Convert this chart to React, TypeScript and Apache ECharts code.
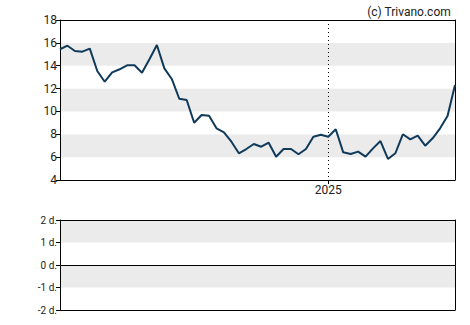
import React, { useEffect, useRef } from "react";
import * as echarts from "echarts";

// weekly closing prices
const prices: number[] = [
  15.44, 15.75, 15.29, 15.23, 15.49, 13.54, 12.6, 13.42, 13.69, 14.04,
  14.04, 13.39, 14.56, 15.81, 13.77, 12.84, 11.11, 11.0, 9.01, 9.69,
  9.63, 8.52, 8.17, 7.35, 6.34, 6.71, 7.15, 6.91, 7.26, 6.04,
  6.71, 6.71, 6.25, 6.71, 7.79, 7.96, 7.79, 8.44, 6.42, 6.27,
  6.48, 6.04, 6.77, 7.41, 5.84, 6.34, 8.0, 7.56, 7.88, 7.0,
  7.65, 8.52, 9.6, 12.31,
];

const startDate = new Date(Date.UTC(2024, 3, 26));
const dates: string[] = prices.map((_, i) => {
  const d = new Date(startDate.getTime() + i * 7 * 86400000);
  return d.toISOString().slice(0, 10);
});
const yearMarkIndex = dates.findIndex((d) => d.startsWith("2025"));
const yearLabel = "2025";

const priceTicks = [4, 6, 8, 10, 12, 14, 16, 18];
const lowerTicks = [-2, -1, 0, 1, 2];
const lowerTickLabels = ["-2 d.", "-1 d.", "0 d.", "1 d.", "2 d."];

export default function App() {
  const ref = useRef<HTMLDivElement>(null);
  useEffect(() => {
    if (!ref.current) return;
    const chart = echarts.init(ref.current, null, { renderer: "svg" });
    const font = "Roboto";
    const only = (idx: number) => (i: number) => i === idx;
    chart.setOption({
      animation: false,
      backgroundColor: "#fff",
      textStyle: { fontFamily: font },
      title: {
        text: "(c) Trivano.com",
        right: 14,
        top: 1,
        textStyle: { fontSize: 12, fontWeight: "normal", color: "#222", fontFamily: font },
      },
      grid: [
        { left: 60, top: 20, width: 395, height: 160 },
        { left: 60, top: 220, width: 395, height: 90 },
      ],
      xAxis: [
        {
          type: "category",
          gridIndex: 0,
          data: dates,
          boundaryGap: false,
          axisLine: { show: true, lineStyle: { color: "#000", width: 1 } },
          axisTick: { show: true, interval: only(yearMarkIndex), length: 4, lineStyle: { color: "#000" } },
          axisLabel: {
            show: true,
            interval: only(yearMarkIndex),
            formatter: () => yearLabel,
            fontSize: 12,
            color: "#222",
            margin: 4,
            fontFamily: font,
          },
          splitLine: {
            show: true,
            interval: only(yearMarkIndex),
            lineStyle: { color: "#000", type: [1, 3], width: 1 },
          },
        },
        {
          type: "category",
          gridIndex: 0,
          position: "top",
          data: dates,
          boundaryGap: false,
          axisLine: { show: true, lineStyle: { color: "#000", width: 1 } },
          axisTick: { show: false },
          axisLabel: { show: false },
        },
        {
          type: "category",
          gridIndex: 1,
          data: dates,
          boundaryGap: false,
          axisLine: { show: true, onZero: false, lineStyle: { color: "#000", width: 1 } },
          axisTick: { show: false },
          axisLabel: { show: false },
        },
        {
          type: "category",
          gridIndex: 1,
          position: "top",
          data: dates,
          boundaryGap: false,
          axisLine: { show: true, onZero: false, lineStyle: { color: "#000", width: 1 } },
          axisTick: { show: false },
          axisLabel: { show: false },
        },
      ],
      yAxis: [
        {
          type: "value",
          gridIndex: 0,
          min: priceTicks[0],
          max: priceTicks[priceTicks.length - 1],
          interval: 2,
          axisLine: { show: true, lineStyle: { color: "#000", width: 1 } },
          axisTick: { show: true, length: 4, lineStyle: { color: "#000" } },
          axisLabel: { fontSize: 12, color: "#222", margin: 3, fontFamily: font },
          splitLine: { show: false },
          splitArea: { show: true, areaStyle: { color: ["#ffffff", "#ebebeb"] } },
        },
        {
          type: "value",
          gridIndex: 0,
          position: "right",
          min: priceTicks[0],
          max: priceTicks[priceTicks.length - 1],
          interval: 2,
          axisLine: { show: true, lineStyle: { color: "#000", width: 1 } },
          axisTick: { show: false },
          axisLabel: { show: false },
          splitLine: { show: false },
        },
        {
          type: "value",
          gridIndex: 1,
          min: lowerTicks[0],
          max: lowerTicks[lowerTicks.length - 1],
          interval: 1,
          axisLine: { show: true, lineStyle: { color: "#000", width: 1 } },
          axisTick: { show: true, length: 4, lineStyle: { color: "#000" } },
          axisLabel: {
            fontSize: 10,
            color: "#222",
            margin: 3,
            fontFamily: font,
            formatter: (v: number) => lowerTickLabels[lowerTicks.indexOf(v)] ?? "",
          },
          splitLine: { show: false },
          splitArea: { show: true, areaStyle: { color: ["#ffffff", "#ebebeb"] } },
        },
        {
          type: "value",
          gridIndex: 1,
          position: "right",
          min: lowerTicks[0],
          max: lowerTicks[lowerTicks.length - 1],
          interval: 1,
          axisLine: { show: true, lineStyle: { color: "#000", width: 1 } },
          axisTick: { show: false },
          axisLabel: { show: false },
          splitLine: { show: false },
        },
      ],
      series: [
        {
          type: "line",
          xAxisIndex: 0,
          yAxisIndex: 0,
          data: prices,
          symbol: "none",
          lineStyle: { color: "#0f3a5a", width: 2 },
        },
        {
          type: "line",
          xAxisIndex: 2,
          yAxisIndex: 2,
          data: [],
          symbol: "none",
          markLine: {
            silent: true,
            symbol: "none",
            label: { show: false },
            lineStyle: { color: "#000", type: "solid", width: 1 },
            data: [{ yAxis: 0 }],
          },
        },
      ],
    });
    return () => chart.dispose();
  }, []);
  return (
    <div
      ref={ref}
      style={{ position: "absolute", left: 0, top: 0, width: 470, height: 325 }}
    />
  );
}
